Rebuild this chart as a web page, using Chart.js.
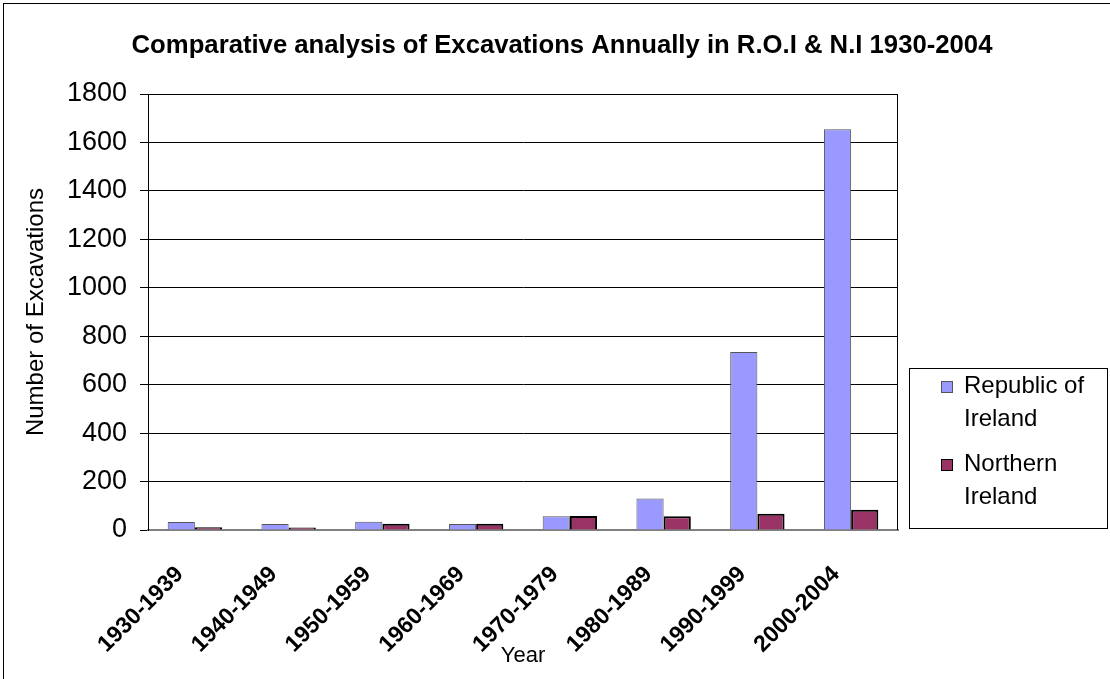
<!DOCTYPE html>
<html>
<head>
<meta charset="utf-8">
<script src="https://cdn.jsdelivr.net/npm/chart.js@4"></script>
<style>
  html, body { margin: 0; padding: 0; background: #fff; }
  #wrap { width: 1110px; height: 679px; position: relative; }
</style>
</head>
<body>
<div id="wrap"><canvas id="chart" width="1110" height="679"></canvas></div>
<script>
const categories = ['1930-1939', '1940-1949', '1950-1959', '1960-1969', '1970-1979', '1980-1989', '1990-1999', '2000-2004'];
const republicOfIreland = [33, 25, 34, 25, 57, 130, 735, 1654];
const northernIreland = [11, 10, 26, 26, 58, 57, 67, 84];
const seriesLabels = [['Republic of', 'Ireland'], ['Northern', 'Ireland']];
const chartTitle = 'Comparative analysis of Excavations Annually in R.O.I & N.I 1930-2004';

const FONT = '"Liberation Sans", Arial, sans-serif';

// frame, title (centred on the whole page), plot border and wrapped legend
const framePlugin = {
  id: 'frame',
  afterDraw(chart) {
    const ctx = chart.ctx;
    const area = chart.chartArea;
    ctx.save();
    ctx.strokeStyle = '#000';
    ctx.lineWidth = 1;
    ctx.strokeRect(3.5, 3.5, 1120, 700);

    ctx.fillStyle = '#000';
    ctx.font = 'bold 25.7px ' + FONT;
    ctx.textAlign = 'center';
    ctx.textBaseline = 'alphabetic';
    ctx.fillText(chartTitle, 562, 53);

    ctx.beginPath();
    ctx.moveTo(area.left, area.top + 0.5);
    ctx.lineTo(area.right - 0.5, area.top + 0.5);
    ctx.lineTo(area.right - 0.5, area.bottom);
    ctx.stroke();

    const lx = 909, ly = 368, lw = 198, lh = 160;
    ctx.fillStyle = '#fff';
    ctx.fillRect(lx, ly, lw, lh);
    ctx.strokeRect(lx + 0.5, ly + 0.5, lw, lh);
    ctx.font = '24px ' + FONT;
    ctx.textAlign = 'left';
    chart.data.datasets.forEach((ds, i) => {
      const base = 393 + i * 78;
      ctx.fillStyle = ds.backgroundColor;
      ctx.fillRect(941, base - 12, 11, 11);
      ctx.strokeStyle = ds.borderColor;
      ctx.lineWidth = 1;
      ctx.strokeRect(941.5, base - 11.5, 11, 11);
      ctx.fillStyle = '#000';
      seriesLabels[i].forEach((line, j) => {
        ctx.fillText(line, 964, base + j * 33);
      });
    });
    ctx.restore();
  }
};

new Chart(document.getElementById('chart'), {
  type: 'bar',
  data: {
    labels: categories,
    datasets: [
      {
        label: 'Republic of Ireland',
        data: republicOfIreland,
        backgroundColor: '#9999FF',
        borderColor: '#555555',
        borderWidth: 1,
        categoryPercentage: 0.58,
        barPercentage: 1,
      },
      {
        label: 'Northern Ireland',
        data: northernIreland,
        backgroundColor: '#993366',
        borderColor: '#000000',
        borderWidth: 2,
        categoryPercentage: 0.58,
        barPercentage: 1,
      },
    ],
  },
  options: {
    responsive: false,
    animation: false,
    devicePixelRatio: 1,
    layout: {
      padding: { left: 0, right: 212, top: 94, bottom: 0 },
    },
    plugins: {
      legend: { display: false },
      tooltip: { enabled: false },
      title: { display: false },
    },
    scales: {
      x: {
        afterFit: scale => { scale.height = 149; },
        grid: { display: false },
        border: { color: '#808080', width: 2 },
        ticks: {
          color: '#000',
          font: { family: FONT, size: 23, weight: 'bold' },
          minRotation: 45,
          maxRotation: 45,
          autoSkip: false,
          padding: 23,
          labelOffset: -15,
        },
        title: {
          display: true,
          text: 'Year',
          color: '#000',
          font: { family: FONT, size: 22 },
          padding: { top: 0, bottom: 10 },
        },
      },
      y: {
        afterFit: scale => { scale.width = 148; },
        min: 0,
        max: 1800,
        grid: { color: '#000', lineWidth: 1, tickLength: 8, drawTicks: true },
        border: { color: '#000', width: 1 },
        ticks: {
          stepSize: 200,
          color: '#000',
          font: { family: FONT, size: 27 },
          padding: 13,
          callback: v => String(v),
        },
        title: {
          display: true,
          text: 'Number of Excavations',
          color: '#000',
          font: { family: FONT, size: 24 },
          padding: { top: 22, bottom: 0 },
        },
      },
    },
  },
  plugins: [framePlugin],
});
</script>
</body>
</html>
